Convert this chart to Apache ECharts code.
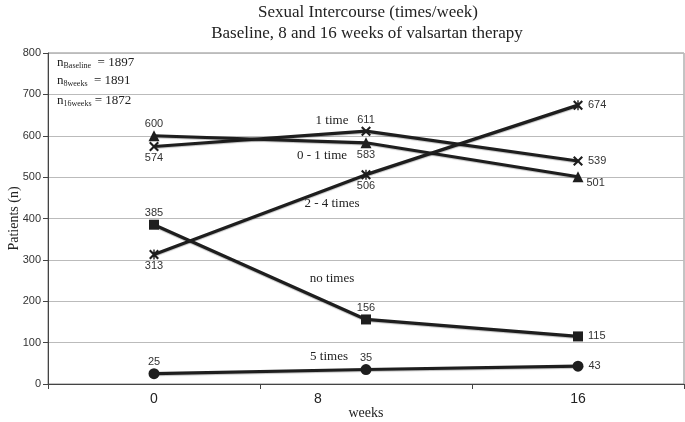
<!DOCTYPE html>
<html><head><meta charset="utf-8">
<script src="https://cdn.jsdelivr.net/npm/echarts@6/dist/echarts.min.js"></script>
<style>html,body{margin:0;padding:0;background:#fff}#c{width:685px;height:422px}</style>
</head><body><div id="c"></div>
<script>
var weeks = ['0', '8', '16'];
var oneTime = [574, 611, 539];
var zeroToOne = [600, 583, 501];
var twoToFour = [313, 506, 674];
var noTimes = [385, 156, 115];
var fiveTimes = [25, 35, 43];
var yTicks = [0, 100, 200, 300, 400, 500, 600, 700, 800];

var SYM_X = 'path://M1.5,0L5,3.5L8.5,0L10,1.5L6.5,5L10,8.5L8.5,10L5,6.5L1.5,10L0,8.5L3.5,5L0,1.5Z';
var SYM_STAR = 'path://M1.5,0L5,3.5L8.5,0L10,1.5L6.5,5L10,8.5L8.5,10L5,6.5L1.5,10L0,8.5L3.5,5L0,1.5Z M4.3,0L5.7,0L5.7,10L4.3,10Z';
var serif = '"Liberation Serif","DejaVu Serif",serif';
var sans = '"Liberation Sans",Arial,sans-serif';

function mk(name, vals, symbol, size, positions, offsets) {
  return {
    name: name, type: 'line', data: vals.map(function (v, i) {
      return { value: v, label: { position: positions[i], distance: positions[i] === 'right' ? 5 : 1, offset: offsets ? offsets[i] : [0, 0] } };
    }),
    symbol: symbol, symbolSize: size, showAllSymbol: true,
    lineStyle: { color: '#1e1e1e', width: 3.2, shadowColor: 'rgba(0,0,0,0.25)', shadowBlur: 1, shadowOffsetY: 1 },
    itemStyle: { color: '#1e1e1e' },
    label: { show: true, color: '#333', fontSize: 11, fontFamily: sans },
    animation: false
  };
}

var chart = echarts.init(document.getElementById('c'));
chart.setOption({
  backgroundColor: '#fff',
  animation: false,
  grid: { left: 48, right: 1, top: 53, bottom: 38, show: true, borderColor: '#888', borderWidth: 1, outerBoundsMode: 'none', containLabel: false },
  xAxis: {
    type: 'category', data: weeks, boundaryGap: true,
    name: 'weeks', nameLocation: 'middle', nameGap: 22, nameMoveOverlap: false,
    nameTextStyle: { fontFamily: serif, fontSize: 14, color: '#222' },
    axisLine: { lineStyle: { color: '#444', width: 1 } },
    axisTick: { show: true, length: 5, lineStyle: { color: '#444' } },
    axisLabel: {
      fontFamily: sans, fontSize: 14, color: '#222', margin: 8,
      formatter: function (v) { return v === '8' ? '{m|' + v + '}' : v; },
      rich: { m: { fontFamily: sans, fontSize: 14, color: '#222', padding: [0, 96, 0, 0] } }
    },
    splitLine: { show: false }
  },
  yAxis: {
    type: 'value', min: yTicks[0], max: yTicks[yTicks.length - 1], interval: 100,
    name: 'Patients (n)', nameLocation: 'middle', nameGap: 27, nameMoveOverlap: false,
    nameTextStyle: { fontFamily: serif, fontSize: 14, color: '#222' },
    axisLine: { show: true, lineStyle: { color: '#444', width: 1 } },
    axisTick: { show: true, length: 5, lineStyle: { color: '#444' } },
    axisLabel: { fontFamily: sans, fontSize: 11, color: '#333', margin: 7 },
    splitLine: { show: true, lineStyle: { color: '#bbb', width: 1 } }
  },
  series: [
    mk('1 time', oneTime, SYM_X, 10, ['bottom', 'top', 'right']),
    mk('0 - 1 time', zeroToOne, 'triangle', 11, ['top', 'bottom', 'right'], [[0, 0], [0, 0], [-2, 6]]),
    mk('2 - 4 times', twoToFour, SYM_STAR, 10, ['bottom', 'bottom', 'right']),
    mk('no times', noTimes, 'rect', 10, ['top', 'top', 'right']),
    mk('5 times', fiveTimes, 'circle', 11, ['top', 'top', 'right'])
  ],
  graphic: [
    { type: 'text', x: 368, y: 13, silent: true, style: { text: 'Sexual Intercourse (times/week)', textAlign: 'center', textVerticalAlign: 'middle', font: '17px ' + serif, fill: '#222' } },
    { type: 'text', x: 367, y: 34, silent: true, style: { text: 'Baseline, 8 and 16 weeks of valsartan therapy', textAlign: 'center', textVerticalAlign: 'middle', font: '17px ' + serif, fill: '#222' } },
    { type: 'text', x: 57, y: 63, silent: true, style: { text: '{n|n}{s|Baseline}{n|  = 1897}', textVerticalAlign: 'middle', rich: { n: { fontFamily: serif, fontSize: 13, fill: '#222' }, s: { fontFamily: serif, fontSize: 8, fill: '#222', padding: [6, 0, 0, 0] } } } },
    { type: 'text', x: 57, y: 81, silent: true, style: { text: '{n|n}{s|8weeks}{n|  = 1891}', textVerticalAlign: 'middle', rich: { n: { fontFamily: serif, fontSize: 13, fill: '#222' }, s: { fontFamily: serif, fontSize: 8, fill: '#222', padding: [6, 0, 0, 0] } } } },
    { type: 'text', x: 57, y: 101, silent: true, style: { text: '{n|n}{s|16weeks}{n| = 1872}', textVerticalAlign: 'middle', rich: { n: { fontFamily: serif, fontSize: 13, fill: '#222' }, s: { fontFamily: serif, fontSize: 8, fill: '#222', padding: [6, 0, 0, 0] } } } },
    { type: 'text', x: 332, y: 121, silent: true, style: { text: '1 time', textAlign: 'center', textVerticalAlign: 'middle', font: '13px ' + serif, fill: '#222' } },
    { type: 'text', x: 322, y: 156, silent: true, style: { text: '0 - 1 time', textAlign: 'center', textVerticalAlign: 'middle', font: '13px ' + serif, fill: '#222' } },
    { type: 'text', x: 332, y: 204, silent: true, style: { text: '2 - 4 times', textAlign: 'center', textVerticalAlign: 'middle', font: '13px ' + serif, fill: '#222' } },
    { type: 'text', x: 332, y: 279, silent: true, style: { text: 'no times', textAlign: 'center', textVerticalAlign: 'middle', font: '13px ' + serif, fill: '#222' } },
    { type: 'text', x: 329, y: 357, silent: true, style: { text: '5 times', textAlign: 'center', textVerticalAlign: 'middle', font: '13px ' + serif, fill: '#222' } }
  ]
});
</script></body></html>
